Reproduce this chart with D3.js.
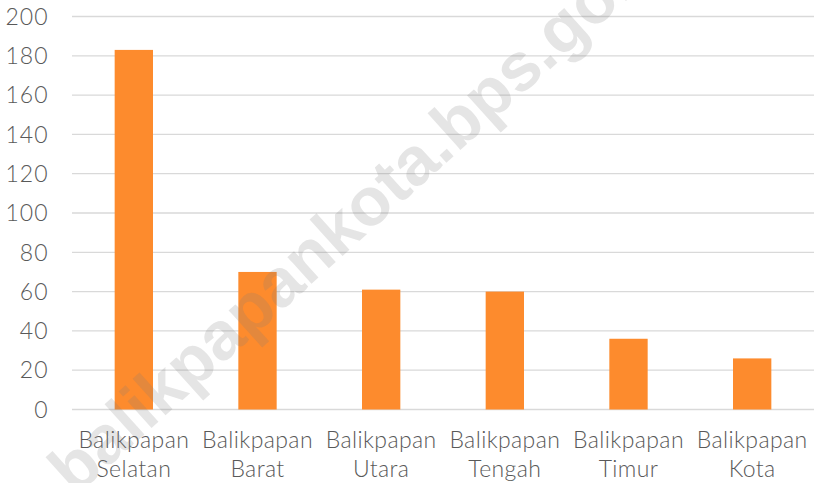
<!DOCTYPE html>
<html><head><meta charset="utf-8">
<script src="https://cdn.jsdelivr.net/npm/d3@7"></script>
<style>html,body{margin:0;padding:0;background:#fff;}svg{display:block;}</style>
</head><body><svg id="c" width="817" height="483"></svg>
<script>
const categories = [["Balikpapan","Selatan"],["Balikpapan","Barat"],["Balikpapan","Utara"],["Balikpapan","Tengah"],["Balikpapan","Timur"],["Balikpapan","Kota"]];
const values = [183, 70, 61, 60, 36, 26];
const yTicks = [0,20,40,60,80,100,120,140,160,180,200];
const watermark = "balikpapankota.bps.go.id";

const svg = d3.select("#c");
const L = 72, R = 814, T = 16.5, B = 409.5;
const keys = categories.map(c => c.join(" "));
const x = d3.scaleBand().domain(keys).range([L, R]).paddingInner(0.69).paddingOuter(0.345);
const y = d3.scaleLinear().domain([0, 200]).range([B, T]);
const font = "Lato, 'Open Sans', sans-serif";

svg.append("g").selectAll("line").data(yTicks).join("line")
  .attr("x1", L).attr("x2", R).attr("y1", d => y(d)).attr("y2", d => y(d))
  .attr("stroke", "#d9d9d9").attr("stroke-width", 1.3);

svg.append("g").selectAll("text").data(yTicks).join("text")
  .attr("x", 48.5).attr("y", d => y(d)).attr("dy", "0.36em")
  .attr("text-anchor", "end").attr("font-family", font).attr("font-weight", 300)
  .attr("font-size", 23).attr("letter-spacing", 1).attr("fill", "#595959").text(d => d);

svg.append("g").selectAll("rect").data(values).join("rect")
  .attr("x", (d, i) => x(keys[i])).attr("width", x.bandwidth())
  .attr("y", d => y(d)).attr("height", d => y(0) - y(d))
  .attr("fill", "#fd8b2d");

const lab = svg.append("g").selectAll("text").data(categories).join("text")
  .attr("text-anchor", "middle").attr("font-family", font).attr("font-weight", 300)
  .attr("font-size", 23).attr("letter-spacing", 0.4).attr("fill", "#595959");
lab.each(function(c, i) {
  const cx = x(keys[i]) + x.bandwidth() / 2;
  d3.select(this).selectAll("tspan").data(c).join("tspan")
    .attr("x", cx).attr("y", (d, j) => 448 + j * 28.5).text(d => d);
});

svg.append("text").attr("transform", "translate(75,497) rotate(-42)")
  .attr("font-family", "'Liberation Sans', Arial, sans-serif").attr("font-weight", "bold")
  .attr("font-size", 68).attr("fill", "#7f7f7f").attr("fill-opacity", 0.2)
  .text(watermark);
</script></body></html>
